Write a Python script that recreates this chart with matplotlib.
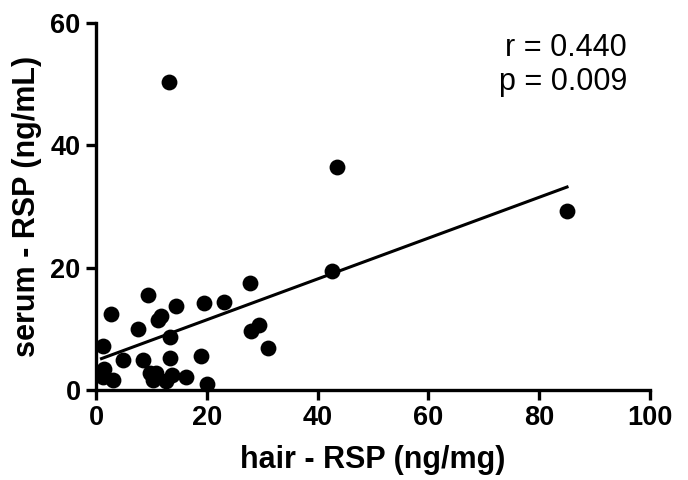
import matplotlib
matplotlib.use("Agg")
import matplotlib.pyplot as plt
import numpy as np

plt.rcParams['font.family'] = ['Liberation Sans', 'DejaVu Sans']

hair_rsp = [27.8, 9.4, 2.65, 14.4, 19.5, 23.1, 11.7, 11.2, 7.6, 29.5, 28.0, 13.4,
            1.3, 31.0, 4.8, 8.5, 13.4, 18.9, 1.4, 1.2, 3.1, 9.7, 10.9, 10.3, 12.6,
            13.7, 16.2, 20.0, 13.2, 43.5, 42.5, 85.0]
serum_rsp = [17.5, 15.5, 12.4, 13.8, 14.2, 14.4, 12.1, 11.5, 10.0, 10.6, 9.7, 8.6,
             7.2, 6.8, 4.9, 4.9, 5.3, 5.6, 3.5, 2.2, 1.6, 2.7, 2.7, 1.7, 1.4,
             2.5, 2.2, 1.0, 50.3, 36.5, 19.5, 29.3]
fit_x_range = [1.0, 85.0]
fit_intercept = 4.8
fit_slope = 0.334
annotation = "r = 0.440\np = 0.009"
x_ticks = [0, 20, 40, 60, 80, 100]
y_ticks = [0, 20, 40, 60]

fig = plt.figure(figsize=(6.88, 4.80), dpi=100)
ax = fig.add_axes([0.1395, 0.1875, 0.8055, 0.7645])

ax.scatter(hair_rsp, serum_rsp, s=130, color='black', zorder=3, clip_on=False, linewidths=0)
fx = np.array(fit_x_range)
ax.plot(fx, fit_intercept + fit_slope * fx, color='black', lw=2.2, zorder=2)

ax.set_xlim(0, 100)
ax.set_ylim(0, 60)
ax.set_xticks(x_ticks)
ax.set_yticks(y_ticks)
for s in ['top', 'right']:
    ax.spines[s].set_visible(False)
for s in ['left', 'bottom']:
    ax.spines[s].set_linewidth(2.4)
ax.tick_params(width=2.4, length=7, direction='out', labelsize=19.5, pad=4)
for lab in ax.get_xticklabels() + ax.get_yticklabels():
    lab.set_fontweight('bold')

ax.set_xlabel("hair - RSP (ng/mg)", fontsize=22, fontweight='bold', labelpad=10)
ax.set_ylabel("serum - RSP (ng/mL)", fontsize=22, fontweight='bold', labelpad=6)

ax.text(0.958, 0.972, annotation, transform=ax.transAxes, ha='right', va='top',
        fontsize=22, linespacing=1.15)

fig.savefig("out.png", dpi=100)
